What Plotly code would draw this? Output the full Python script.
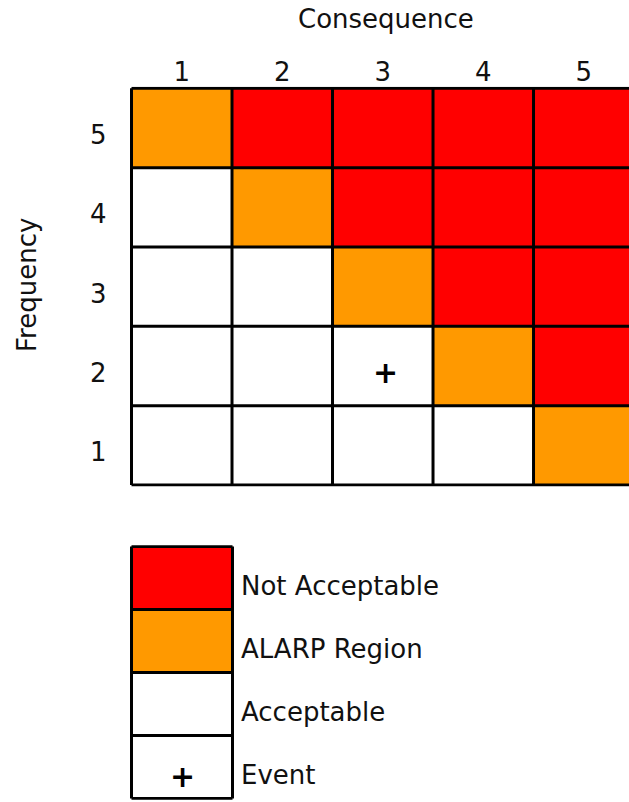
import plotly.graph_objects as go

# ---------------- data ----------------
consequence = [1, 2, 3, 4, 5]
frequency = [1, 2, 3, 4, 5]
tick_text = ["1", "2", "3", "4", "5"]
# risk level per frequency row (1..5) and consequence column (1..5)
# 0 = Acceptable, 1 = ALARP Region, 2 = Not Acceptable
risk_levels = [
    [0, 0, 0, 0, 1],  # frequency 1
    [0, 0, 0, 1, 2],  # frequency 2
    [0, 0, 1, 2, 2],  # frequency 3
    [0, 1, 2, 2, 2],  # frequency 4
    [1, 2, 2, 2, 2],  # frequency 5
]
event_consequence = [3]
event_frequency = [2]

legend_labels = ["Event", "Acceptable", "ALARP Region", "Not Acceptable"]
legend_rows = [1, 2, 3, 4]
legend_levels = [0, 0, 1, 2]
legend_event_row = [1]

level_colors = ["#FFFFFF", "#FF9900", "#FF0000"]

# ---------------- style ----------------
FONT = "DejaVu Sans"
TXT = "#111111"
FS = 26
W, H = 629, 802

colorscale = [[0.0, level_colors[0]], [0.5, level_colors[1]], [1.0, level_colors[2]]]

fig = go.Figure()

# matrix
fig.add_trace(go.Heatmap(
    x=consequence, y=frequency, z=risk_levels,
    zmin=0, zmax=2, colorscale=colorscale, showscale=False,
    hoverinfo="skip", xaxis="x", yaxis="y",
))

# legend block
fig.add_trace(go.Heatmap(
    x=[1], y=legend_rows, z=[[v] for v in legend_levels],
    zmin=0, zmax=2, colorscale=colorscale, showscale=False,
    hoverinfo="skip", xaxis="x2", yaxis="y2",
))

shapes = []
# matrix grid lines at category boundaries
nx, ny = len(consequence), len(frequency)
for i in range(nx + 1):
    b = consequence[0] - 0.5 + i
    shapes.append(dict(type="line", xref="x", yref="y", x0=b, x1=b,
                       y0=frequency[0] - 0.5, y1=frequency[-1] + 0.5,
                       line=dict(color="black", width=3), layer="above"))
for j in range(ny + 1):
    b = frequency[0] - 0.5 + j
    shapes.append(dict(type="line", xref="x", yref="y", y0=b, y1=b,
                       x0=consequence[0] - 0.5, x1=consequence[-1] + 0.5,
                       line=dict(color="black", width=3), layer="above"))
# legend grid lines
for b in [0.5, 1.5]:
    shapes.append(dict(type="line", xref="x2", yref="y2", x0=b, x1=b,
                       y0=0.5, y1=len(legend_rows) + 0.5,
                       line=dict(color="black", width=3), layer="above"))
for j in range(len(legend_rows) + 1):
    b = 0.5 + j
    shapes.append(dict(type="line", xref="x2", yref="y2", y0=b, y1=b,
                       x0=0.5, x1=1.5,
                       line=dict(color="black", width=3), layer="above"))

annotations = []
PLUS_FONT = dict(family="DejaVu Sans", size=30, color="black", weight="bold")
for cx, fy in zip(event_consequence, event_frequency):
    annotations.append(dict(text="+", xref="x", yref="y", x=cx, y=fy,
                            xanchor="center", yanchor="middle", showarrow=False,
                            xshift=3, yshift=-6, font=PLUS_FONT))
for r in legend_event_row:
    annotations.append(dict(text="+", xref="x2", yref="y2", x=1, y=r,
                            xanchor="center", yanchor="middle", showarrow=False,
                            yshift=-9, font=PLUS_FONT))
for lab, r in zip(legend_labels, legend_rows):
    annotations.append(dict(text=lab, xref="paper", yref="y2", x=239 / W, y=r,
                            xanchor="left", yanchor="middle", showarrow=False,
                            yshift=-8, font=dict(family=FONT, size=FS, color=TXT)))
annotations.append(dict(text="Consequence", xref="paper", yref="paper",
                        x=386 / W, y=1 - 19 / H, xanchor="center", yanchor="middle",
                        showarrow=False, font=dict(family=FONT, size=FS, color=TXT)))
annotations.append(dict(text="Frequency", xref="paper", yref="paper",
                        x=27 / W, y=1 - 285 / H, xanchor="center", yanchor="middle",
                        textangle=-90, showarrow=False,
                        font=dict(family=FONT, size=FS, color=TXT)))

fig.update_layout(
    width=W, height=H,
    margin=dict(l=0, r=0, t=0, b=0),
    paper_bgcolor="white", plot_bgcolor="white",
    showlegend=False,
    xaxis=dict(domain=[129.49 / W, 1.0], range=[0.48, 5.45], side="top",
               tickvals=consequence, ticktext=tick_text, ticks="",
               showgrid=False, zeroline=False, showline=False, fixedrange=True,
               tickfont=dict(family=FONT, size=FS, color=TXT), ticklabelstandoff=0),
    yaxis=dict(domain=[1 - 486.6 / H, 1 - 86.7 / H], range=[0.48, 5.52],
               tickvals=frequency, ticktext=tick_text, ticks="",
               showgrid=False, zeroline=False, showline=False, fixedrange=True,
               tickfont=dict(family=FONT, size=FS, color=TXT),
               ticklabelstandoff=22, ticklabelshift=7),
    xaxis2=dict(domain=[129.48 / W, 234.52 / W], range=[0.48, 1.52], visible=False,
                anchor="y2", fixedrange=True),
    yaxis2=dict(domain=[1 - 799.76 / H, 1 - 545.24 / H], range=[0.48, 4.52], visible=False,
                anchor="x2", fixedrange=True),
    shapes=shapes,
    annotations=annotations,
)

fig.write_html("out.html", config={"displayModeBar": False},
               post_script="document.body.style.margin='0';")
